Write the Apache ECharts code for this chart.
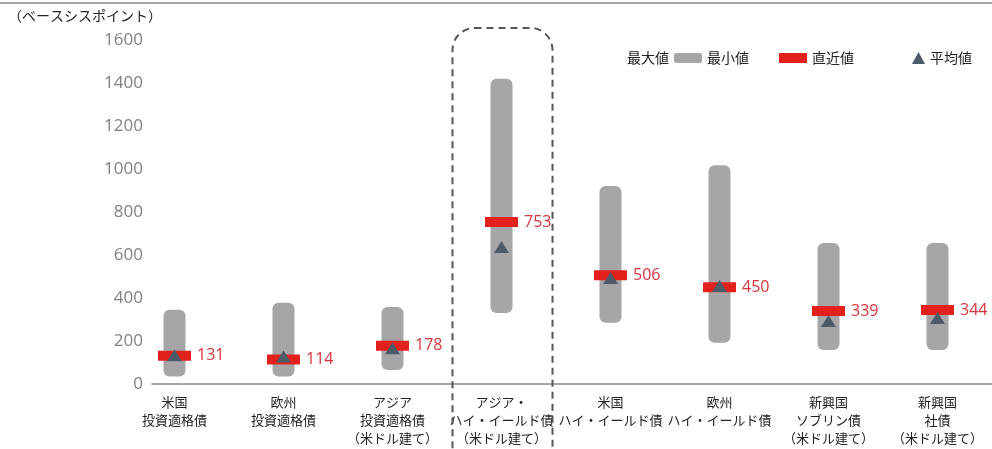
<!DOCTYPE html>
<html>
<head>
<meta charset="utf-8">
<script src="https://cdn.jsdelivr.net/npm/echarts@6/dist/echarts.min.js"></script>
<style>
  html, body { margin: 0; padding: 0; background: #fff; }
  #main { width: 992px; height: 449px; }
</style>
</head>
<body>
<div id="main"></div>
<script>
const categories = [
  '米国\n投資適格債',
  '欧州\n投資適格債',
  'アジア\n投資適格債\n（米ドル建て）',
  'アジア・\nハイ・イールド債\n（米ドル建て）',
  '米国\nハイ・イールド債',
  '欧州\nハイ・イールド債',
  '新興国\nソブリン債\n（米ドル建て）',
  '新興国\n社債\n（米ドル建て）'
]
const maxValues = [345, 378, 358, 1420, 921, 1018, 656, 656]
const minValues = [35, 35, 65, 330, 285, 192, 158, 158]
const latestValues = [131, 114, 178, 753, 506, 450, 339, 344]
const avgValues = [134, 128, 166, 637, 493, 456, 293, 307]
const yTicks = [0, 1600, 200] // min, max, interval

const jpFont = '"Noto Sans CJK JP", "Noto Sans", sans-serif'
const numFont = '"Open Sans", "Noto Sans", sans-serif'

const chart = echarts.init(document.getElementById('main'))

const option = {
  animation: false,
  textStyle: { fontFamily: jpFont },
  grid: [
    // data grid, bands centred on the columns
    { left: 120, width: 875, top: 40, height: 344 },
    // axis grid, only draws the baseline and the y labels
    { left: 152, right: 0, top: 40, height: 344 }
  ],
  legend: [
    {
      left: 674,
      top: 51,
      padding: 0,
      itemWidth: 28,
      itemHeight: 10,
      itemGap: 30,
      textStyle: { fontSize: 14, color: '#222', fontFamily: jpFont },
      selectedMode: false,
      data: [
        { name: '最小値', icon: 'roundRect' },
        { name: '直近値', icon: 'rect' }
      ]
    },
    {
      left: 912,
      top: 51,
      padding: 0,
      itemWidth: 13,
      itemHeight: 12,
      textStyle: { fontSize: 14, color: '#222', fontFamily: jpFont },
      selectedMode: false,
      data: [{ name: '平均値', icon: 'triangle' }]
    }
  ],
  xAxis: [
    {
      type: 'category',
      gridIndex: 0,
      data: categories,
      axisLine: { show: false },
      axisTick: { show: false },
      axisLabel: {
        interval: 0,
        margin: 9,
        fontSize: 13,
        lineHeight: 18,
        color: '#222',
        fontFamily: jpFont
      }
    },
    {
      type: 'category',
      gridIndex: 1,
      data: [''],
      axisLine: { show: true, onZero: false, lineStyle: { color: '#8a8a8a', width: 1.5 } },
      axisTick: { show: false },
      axisLabel: { show: false },
      splitLine: { show: false }
    }
  ],
  yAxis: [
    {
      type: 'value',
      gridIndex: 0,
      min: yTicks[0],
      max: yTicks[1],
      interval: yTicks[2],
      axisLine: { show: false },
      axisTick: { show: false },
      axisLabel: { show: false },
      splitLine: { show: false }
    },
    {
      type: 'value',
      gridIndex: 1,
      min: yTicks[0],
      max: yTicks[1],
      interval: yTicks[2],
      axisLine: { show: false },
      axisTick: { show: false },
      splitLine: { show: false },
      axisLabel: {
        margin: 9,
        fontSize: 17,
        color: '#808080',
        fontFamily: numFont,
        formatter: v => String(v)
      }
    }
  ],
  series: [
    {
      name: 'base',
      type: 'bar',
      stack: 'range',
      barWidth: 22,
      silent: true,
      itemStyle: { color: 'transparent' },
      data: minValues
    },
    {
      name: '最小値',
      type: 'bar',
      stack: 'range',
      barWidth: 22,
      itemStyle: { color: '#a6a6a9', borderRadius: 6 },
      data: maxValues.map((v, i) => v - minValues[i])
    },
    {
      name: '直近値',
      type: 'scatter',
      symbol: 'rect',
      symbolSize: [33, 10],
      itemStyle: { color: '#e3211c', opacity: 1 },
      z: 3,
      label: {
        show: true,
        position: 'right',
        distance: 6,
        fontSize: 16,
        color: '#d9333a',
        fontFamily: numFont
      },
      data: latestValues
    },
    {
      name: '平均値',
      type: 'scatter',
      symbol: 'triangle',
      symbolSize: [15, 12],
      itemStyle: { color: '#4d5b68', opacity: 1 },
      z: 4,
      data: avgValues
    }
  ],
  graphic: [
    {
      id: 'topLine',
      type: 'line',
      shape: { x1: 0, y1: 3, x2: 992, y2: 3 },
      style: { stroke: '#8a8a8a', lineWidth: 1.5 }
    },
    {
      id: 'unit',
      type: 'text',
      left: 8,
      top: 9,
      style: { text: '（ベースシスポイント）', fill: '#222', font: '14px ' + jpFont }
    },
    {
      id: 'maxLabel',
      type: 'text',
      left: 627,
      top: 51,
      style: { text: '最大値', fill: '#222', font: '14px ' + jpFont }
    }
  ]
}

chart.setOption(option)

// dashed frame round the Asian high-yield column
const cx = chart.convertToPixel({ xAxisIndex: 0 }, categories[3])
chart.setOption({
  graphic: [
    {
      id: 'frame',
      type: 'rect',
      shape: { x: cx - 49, y: 28, width: 100, height: 450, r: [22, 22, 0, 0] },
      style: { fill: 'none', stroke: '#555', lineWidth: 2, lineDash: [7, 5] },
      z: 10
    }
  ]
})
</script>
</body>
</html>
